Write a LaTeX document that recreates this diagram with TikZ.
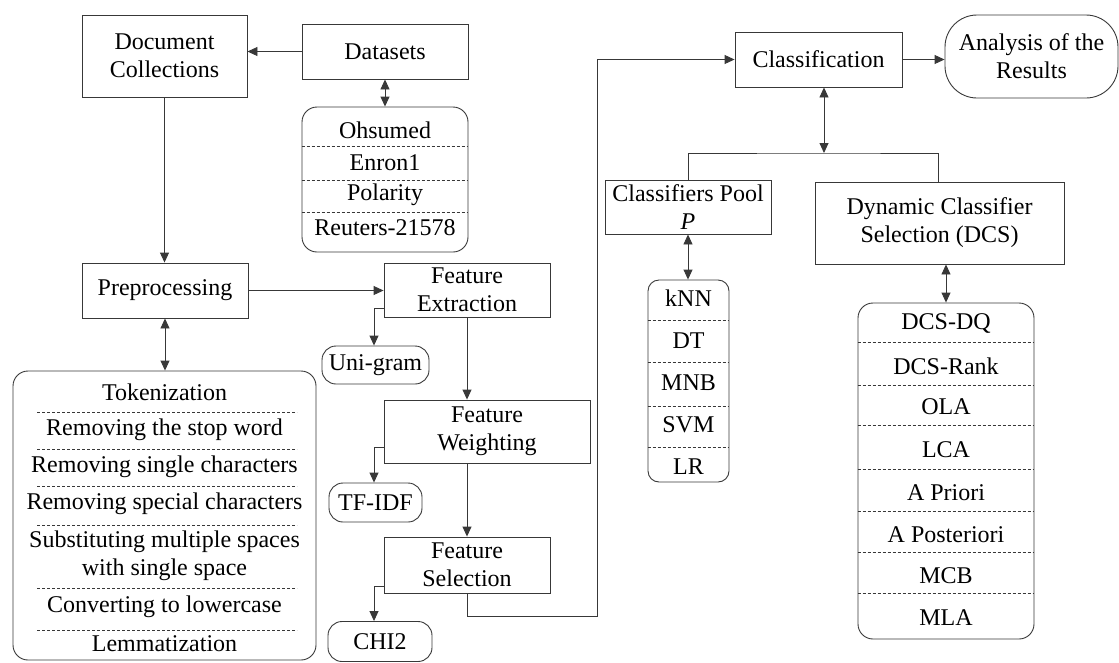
\documentclass[tikz,border=0pt]{standalone}
\usepackage{fontspec}
\setmainfont{LiberationSerif}[Extension=.ttf, UprightFont=*-Regular, ItalicFont=*-Italic, BoldFont=*-Bold]
\usetikzlibrary{arrows.meta,calc}
\definecolor{linec}{gray}{0.22}
\newcommand\fs{\rmfamily\fontsize{24}{28}\selectfont}
\tikzset{
  box/.style={draw=linec, line width=0.9pt, inner sep=0pt, align=center, font=\fs},
  rbox/.style={box, rounded corners=15pt},
  item/.style={inner sep=0pt, align=center, font=\fs},
  sep/.style={draw=linec, dash pattern=on 3pt off 2pt, line width=0.6pt},
  conn/.style={draw=linec, line width=0.9pt},
  arr/.style={conn, -{Triangle[length=10pt,width=9pt]}},
  darr/.style={conn, {Triangle[length=10pt,width=9pt]}-{Triangle[length=10pt,width=9pt]}},
}
\begin{document}
\begin{tikzpicture}[x=1pt,y=-1pt]
\useasboundingbox (0,0) rectangle (1119,662);

% left column
\node[box, minimum width=165, minimum height=82] (doc) at (164.5,56) {Document\\Collections};
\node[box, minimum width=166, minimum height=55] (data) at (385,51.5) {Datasets};
\node[rbox, minimum width=166, minimum height=145] (dlist) at (385,179.5) {};
\node[item] (d1) at (385,130) {Ohsumed};
\node[item] (d2) at (385,163) {Enron1};
\node[item] (d3) at (385,195) {Polarity};
\node[item] (d4) at (385,228) {Reuters-21578};
\foreach \yy in {146,180,212} \draw[sep] (dlist.west |- 0,\yy) -- (dlist.east |- 0,\yy);

\node[box, minimum width=166, minimum height=55] (prep) at (165,290.5) {Preprocessing};
\node[rbox, minimum width=303, minimum height=289] (plist) at (164.5,515.5) {};
\node[item] (p1) at (164.5,392) {Tokenization};
\node[item] (p2) at (164.5,430) {Removing the stop word};
\node[item] (p3) at (164.5,467) {Removing single characters};
\node[item] (p4) at (164.5,504) {Removing special characters};
\node[item] (p5) at (164.5,556) {Substituting multiple spaces\\with single space};
\node[item] (p6) at (164.5,607) {Converting to lowercase};
\node[item] (p7) at (164.5,644) {Lemmatization};
\foreach \yy in {412,449,486,525,588,630} \draw[sep] (37,\yy) -- (297,\yy);

% feature column
\node[box, minimum width=166, minimum height=54] (fe) at (467,290) {Feature\\Extraction};
\node[rbox, rounded corners=14pt, minimum width=107, minimum height=38] (uni) at (375.5,365) {Uni-gram};
\node[box, minimum width=206, minimum height=63] (fw) at (487,431.5) {Feature\\Weighting};
\node[rbox, rounded corners=14pt, minimum width=93, minimum height=39] (tfidf) at (375.5,502.5) {TF-IDF};
\node[box, minimum width=166, minimum height=56] (fsel) at (467,565) {Feature\\Selection};
\node[rbox, rounded corners=14pt, minimum width=104, minimum height=40] (chi) at (380,641.5) {CHI2};

% right part
\node[box, minimum width=167, minimum height=55] (cls) at (818.5,59.5) {Classification};
\node[box, rounded corners=32pt, minimum width=173, minimum height=83] (ana) at (1031.5,56.5) {Analysis of the\\Results};
\node[box, minimum width=166, minimum height=54] (pool) at (688,207) {Classifiers Pool\\\textit{P}};
\node[box, minimum width=249, minimum height=82] (dcs) at (939.5,223) {Dynamic Classifier\\Selection (DCS)};

\node[box, rounded corners=11pt, minimum width=81, minimum height=202] (klist) at (688.5,381) {};
\node[item] (k1) at (688.5,298) {kNN};
\node[item] (k2) at (688.5,341) {DT};
\node[item] (k3) at (688.5,383) {MNB};
\node[item] (k4) at (688.5,425) {SVM};
\node[item] (k5) at (688.5,467) {LR};
\foreach \yy in {320,362,406,447} \draw[sep] (klist.west |- 0,\yy) -- (klist.east |- 0,\yy);

\node[rbox, minimum width=176, minimum height=336] (mlist) at (946,471) {};
\node[item] (m1) at (946,323) {DCS-DQ};
\node[item] (m2) at (946,366) {DCS-Rank};
\node[item] (m3) at (946,407) {OLA};
\node[item] (m4) at (946,450) {LCA};
\node[item] (m5) at (946,493) {A Priori};
\node[item] (m6) at (946,535) {A Posteriori};
\node[item] (m7) at (946,576) {MCB};
\node[item] (m8) at (946,618) {MLA};
\foreach \yy in {342,385,425,469,511,552,593} \draw[sep] (mlist.west |- 0,\yy) -- (mlist.east |- 0,\yy);

% connectors
\draw[arr] (data.west) -- (doc.east |- data.west);
\draw[darr] (data.south) -- (dlist.north);
\draw[arr] (doc.south) -- (doc.south |- prep.north);
\draw[arr] (prep.east) -- (fe.west |- prep.east);
\draw[darr] (prep.south) -- (prep.south |- plist.north);

\draw[arr] ($(fe.south west)+(0,-9)$) -| ($(uni.north)+(-1.5,0)$);
\draw[arr] (fe.south) -- (fe.south |- fw.north);
\draw[arr] ($(fw.south west)+(0,-16)$) -| ($(tfidf.north)+(-1.5,0)$);
\draw[arr] (fsel.north |- fw.south) -- (fsel.north);
\draw[arr] ($(fsel.south west)+(0,-7)$) -| ($(chi.north)+(-6,0)$);

\coordinate (turn) at (597,616);
\draw[arr] (fsel.south) |- (turn) |- (cls.west);
\draw[arr] (cls.east) -- (cls.east -| ana.west);

\coordinate (junc) at (824,153);
\draw[darr] (cls.south -| junc) -- (junc);
\draw[conn] (pool.north) |- (junc) -| (dcs.north -| 938,0);
\draw[darr] (pool.south) -- (pool.south |- klist.north);
\draw[darr] (mlist.north |- dcs.south) -- (mlist.north);
\end{tikzpicture}
\end{document}
